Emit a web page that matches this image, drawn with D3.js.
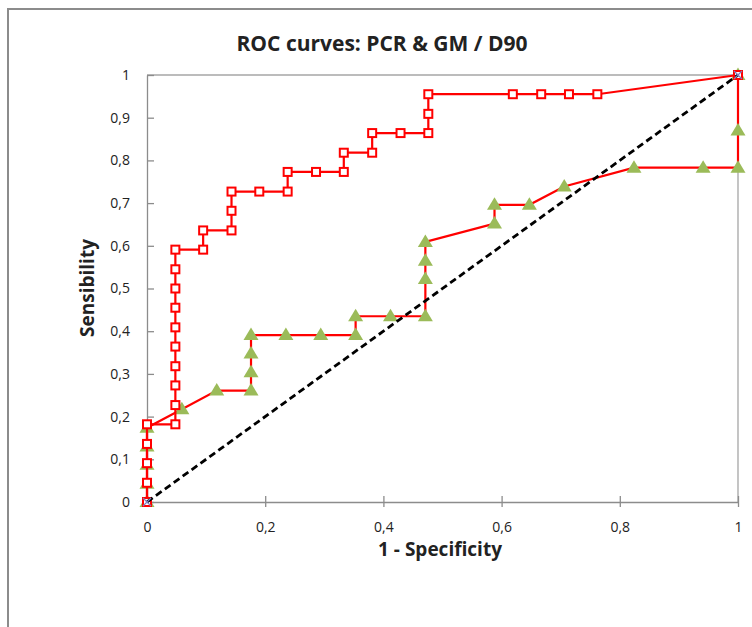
<!DOCTYPE html>
<html>
<head>
<meta charset="utf-8">
<script src="https://cdn.jsdelivr.net/npm/d3@7"></script>
<style>
  body { margin: 0; background: #fff; }
  text { font-family: "Open Sans", "Liberation Sans", sans-serif; fill: #222; }
</style>
</head>
<body>
<div id="chart"></div>
<script>
// PCR: 1 - specificity / sensibility
const pcrX = [0, 0, 0, 0, 0, 0.048, 0.048, 0.048, 0.048, 0.048, 0.048, 0.048, 0.048, 0.048, 0.048,
  0.095, 0.095, 0.143, 0.143, 0.143, 0.19, 0.238, 0.238, 0.286, 0.333, 0.333, 0.381, 0.381,
  0.429, 0.476, 0.476, 0.476, 0.619, 0.667, 0.714, 0.762, 1];
const pcrY = [0, 0.045, 0.091, 0.136, 0.182, 0.182, 0.227, 0.273, 0.318, 0.364, 0.409, 0.455, 0.5, 0.545, 0.591,
  0.591, 0.636, 0.636, 0.682, 0.727, 0.727, 0.727, 0.773, 0.773, 0.773, 0.818, 0.818, 0.864,
  0.864, 0.864, 0.909, 0.955, 0.955, 0.955, 0.955, 0.955, 1];

// GM
const gmX = [0, 0, 0, 0, 0, 0.059, 0.118, 0.176, 0.176, 0.176, 0.176, 0.235, 0.294, 0.353, 0.353,
  0.412, 0.471, 0.471, 0.471, 0.471, 0.588, 0.588, 0.647, 0.706, 0.824, 0.941, 1, 1, 1];
const gmY = [0, 0.043, 0.087, 0.13, 0.174, 0.217, 0.261, 0.261, 0.304, 0.348, 0.391, 0.391, 0.391, 0.391, 0.435,
  0.435, 0.435, 0.522, 0.565, 0.609, 0.652, 0.696, 0.696, 0.739, 0.783, 0.783, 0.783, 0.870, 1];

// reference diagonal
const refX = [0, 1];
const refY = [0, 1];

const yTicks = [0, 0.1, 0.2, 0.3, 0.4, 0.5, 0.6, 0.7, 0.8, 0.9, 1];
const xTicks = [0, 0.2, 0.4, 0.6, 0.8, 1];

const width = 752;
const height = 627;
const plot = { left: 147, right: 738, top: 75, bottom: 502 };

const x = d3.scaleLinear().domain([0, 1]).range([plot.left, plot.right]);
const y = d3.scaleLinear().domain([0, 1]).range([plot.bottom, plot.top]);

const fmt = (d) => String(d).replace(".", ",");

const svg = d3.select("#chart").append("svg")
  .attr("width", width)
  .attr("height", height);

// chart frame
svg.append("rect")
  .attr("x", 8).attr("y", 9)
  .attr("width", 800).attr("height", 700)
  .attr("fill", "#fff")
  .attr("stroke", "#8c8c8c")
  .attr("stroke-width", 2);

svg.append("text")
  .attr("x", 382).attr("y", 51)
  .attr("text-anchor", "middle")
  .attr("font-weight", "bold")
  .attr("font-size", 21)
  .text("ROC curves: PCR & GM / D90");

// plot border (top + right)
svg.append("path")
  .attr("d", `M${plot.left},${plot.top}H${plot.right}V${plot.bottom}`)
  .attr("fill", "none")
  .attr("stroke", "#a6a6a6")
  .attr("stroke-width", 1.3);

// axes
const yAxisG = svg.append("g")
  .attr("transform", `translate(${plot.left},0)`)
  .call(d3.axisLeft(y).tickValues(yTicks).tickFormat(fmt).tickSizeInner(7).tickSizeOuter(0).tickPadding(10));
yAxisG.selectAll(".tick line").attr("x2", 7);

const xAxisG = svg.append("g")
  .attr("transform", `translate(0,${plot.bottom})`)
  .call(d3.axisBottom(x).tickValues(xTicks).tickFormat(fmt).tickSizeInner(5).tickSizeOuter(0).tickPadding(15));
xAxisG.selectAll(".tick line").attr("y1", -6).attr("y2", 5);

svg.selectAll(".domain, .tick line")
  .attr("stroke", "#8c8c8c")
  .attr("stroke-width", 1.3);
svg.selectAll(".tick text")
  .attr("font-size", 14)
  .attr("font-family", "\"Open Sans\", sans-serif")
  .attr("fill", "#333");

svg.append("text")
  .attr("x", 440).attr("y", 556)
  .attr("text-anchor", "middle")
  .attr("font-weight", "bold")
  .attr("font-size", 19)
  .text("1 - Specificity");

svg.append("text")
  .attr("transform", "translate(94,288) rotate(-90)")
  .attr("text-anchor", "middle")
  .attr("font-weight", "bold")
  .attr("font-size", 19)
  .text("Sensibility");

const line = d3.line().x((d) => x(d[0])).y((d) => y(d[1]));
const gm = gmX.map((v, i) => [v, gmY[i]]);
const pcr = pcrX.map((v, i) => [v, pcrY[i]]);
const ref = refX.map((v, i) => [v, refY[i]]);

// GM series
svg.append("path")
  .datum(gm)
  .attr("d", line)
  .attr("fill", "none")
  .attr("stroke", "#ff0000")
  .attr("stroke-width", 2.2);
svg.append("g").selectAll("path")
  .data(gm)
  .join("path")
  .attr("transform", (d) => `translate(${x(d[0])},${y(d[1])})`)
  .attr("d", "M0,-7.5L7.5,5L-7.5,5Z")
  .attr("fill", "#9bbb59");

// PCR series
svg.append("path")
  .datum(pcr)
  .attr("d", line)
  .attr("fill", "none")
  .attr("stroke", "#ff0000")
  .attr("stroke-width", 2.2);
svg.append("g").selectAll("rect")
  .data(pcr)
  .join("rect")
  .attr("x", (d) => x(d[0]) - 4)
  .attr("y", (d) => y(d[1]) - 4)
  .attr("width", 8)
  .attr("height", 8)
  .attr("fill", "#fff")
  .attr("stroke", "#ff0000")
  .attr("stroke-width", 2);

// diagonal
svg.append("path")
  .datum(ref)
  .attr("d", line)
  .attr("fill", "none")
  .attr("stroke", "#000")
  .attr("stroke-width", 2.8)
  .attr("stroke-dasharray", "7,4");
svg.append("g").selectAll("path")
  .data(ref)
  .join("path")
  .attr("transform", (d) => `translate(${x(d[0])},${y(d[1])})`)
  .attr("d", "M-4,-4L4,4M-4,4L4,-4")
  .attr("stroke", "#7f7fbf")
  .attr("stroke-width", 1.2);
</script>
</body>
</html>
